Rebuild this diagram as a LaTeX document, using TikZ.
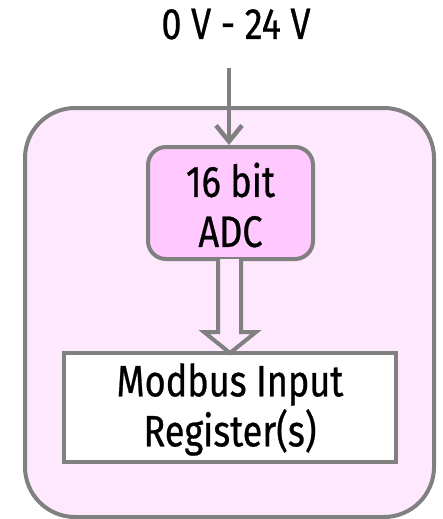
\documentclass[tikz,border=0pt]{standalone}
\usepackage{fontspec}
\setmainfont[FakeStretch=0.82, FakeBold=0.6]{Fira Sans}
\usetikzlibrary{arrows.meta}
\definecolor{edge}{HTML}{808080}
\definecolor{outerfill}{HTML}{FDE8FD}
\definecolor{adcfill}{HTML}{FFC8FF}
\begin{document}
\begin{tikzpicture}[x=1pt,y=-1pt,
  lbl/.style={font=\fontsize{44}{50}\selectfont, align=center, inner sep=0pt},
  boxline/.style={draw=edge, line width=4pt}]
\useasboundingbox (0,0) rectangle (442,519);
% outer module
\node[boxline, fill=outerfill, rounded corners=50pt, minimum width=409pt, minimum height=409pt, inner sep=0pt] (module) at (229.5,312.5) {};
% ADC
\node[boxline, fill=adcfill, rounded corners=18pt, minimum width=165pt, minimum height=112pt, inner sep=0pt] (adc) at (230.5,203) {};
\node[lbl] (adctext) at ([yshift=-2pt]adc.center) {16 bit\\ADC};
% register
\node[boxline, fill=white, minimum width=332pt, minimum height=109pt, inner sep=0pt] (reg) at (230,407.5) {};
\node[lbl] (regtext) at ([yshift=-2pt]reg.center) {Modbus Input\\Register(s)};
% input label
\node[lbl, anchor=base] (vin) at (236,39) {0 V - 24 V};
\coordinate (start) at (229,68);
\draw[draw=edge, line width=4.5pt, -{Straight Barb[length=16pt,width=26pt,line width=4.5pt]}] (start) -- (adc.north -| start);
% hollow arrow
\draw[boxline, fill=outerfill, line join=miter] (218,259) -- (218,332) -- (204,332) -- (230,353) -- (256,332) -- (241,332) -- (241,259);
\end{tikzpicture}
\end{document}
